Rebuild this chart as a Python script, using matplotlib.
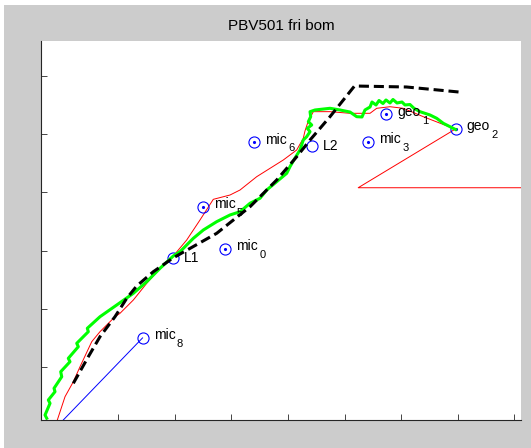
import matplotlib.pyplot as plt
from matplotlib.patches import Rectangle

plt.rcParams['font.family'] = ['Liberation Sans', 'DejaVu Sans']

# positions of the sensors / reference points (label, subscript)
names = ['L1', 'L2', 'mic', 'mic', 'mic', 'mic', 'mic', 'geo', 'geo']
subs = ['', '', '0', '3', '5', '6', '8', '1', '2']
px = [1.97, 4.42, 2.89, 5.42, 2.49, 3.40, 1.43, 5.73, 6.96]
py = [2.88, 4.80, 3.03, 4.87, 3.75, 4.86, 1.50, 5.34, 5.09]
centre_dot = [False, False, True, True, True, True, False, True, True]

# measured track (red)
red_x = [-0.076, 0.060, 0.207, 0.325, 0.532, 0.678, 0.943, 1.032, 1.267, 1.504,
         1.739, 1.973, 2.210, 2.445, 2.680, 2.975, 3.152, 3.447, 3.917, 4.154,
         4.270, 4.300, 4.353, 4.447, 4.742, 5.095, 5.449, 5.567, 5.802, 6.037,
         6.390, 6.951]
red_y = [0.089, 0.490, 0.747, 1.005, 1.435, 1.607, 1.864, 1.923, 2.151, 2.438,
         2.696, 2.907, 3.182, 3.526, 3.881, 3.955, 4.041, 4.270, 4.557, 4.729,
         4.930, 5.055, 5.210, 5.387, 5.387, 5.359, 5.359, 5.445, 5.472, 5.445,
         5.301, 5.089]

# bearing line from geo_2
ray_x = [6.96, 5.24, 9.0]
ray_y = [5.09, 4.08, 4.08]

# bearing line to mic_8
blue_x = [0.03, 1.43]
blue_y = [0.09, 1.50]

# estimated track (green)
grn_x = [-0.263, -0.293, -0.205, -0.235, -0.117, -0.134, 0.002, -0.016, 0.148, 0.118,
         0.295, 0.267, 0.472, 0.454, 0.678, 0.973, 1.267, 1.504, 1.739, 1.973,
         2.092, 2.327, 2.504, 2.740, 2.975, 3.152, 3.329, 3.505, 3.624, 3.800,
         3.977, 4.035, 4.124, 4.212, 4.270, 4.330, 4.389, 4.341, 4.419, 4.359,
         4.401, 4.389, 4.477, 4.742, 4.919, 5.095, 5.214, 5.307, 5.360, 5.449,
         5.484, 5.555, 5.608, 5.678, 5.731, 5.802, 5.855, 5.926, 6.014, 6.067,
         6.155, 6.226, 6.332, 6.509, 6.627, 6.744, 6.862, 6.959]
grn_y = [0.119, 0.175, 0.376, 0.433, 0.576, 0.634, 0.833, 0.919, 1.091, 1.149,
         1.349, 1.407, 1.607, 1.665, 1.864, 2.065, 2.266, 2.466, 2.696, 2.907,
         2.981, 3.211, 3.354, 3.497, 3.612, 3.668, 3.813, 3.899, 4.041, 4.184,
         4.328, 4.442, 4.591, 4.729, 4.900, 4.957, 5.043, 5.101, 5.158, 5.215,
         5.301, 5.387, 5.416, 5.445, 5.416, 5.381, 5.301, 5.296, 5.416, 5.467,
         5.553, 5.502, 5.579, 5.527, 5.588, 5.536, 5.596, 5.536, 5.553, 5.502,
         5.510, 5.445, 5.387, 5.330, 5.273, 5.187, 5.129, 5.081]

# planned route (black dashed)
plan_x = [0.207, 0.472, 0.678, 0.943, 1.150, 1.327, 1.620, 1.968, 2.740, 3.329,
          3.800, 4.154, 4.389, 4.742, 5.175, 6.094, 7.092]
plan_y = [0.720, 1.177, 1.521, 1.864, 2.180, 2.392, 2.637, 2.873, 3.297, 3.754,
          4.213, 4.613, 4.900, 5.301, 5.828, 5.811, 5.718]

fig = plt.figure(figsize=(5.31, 4.48), dpi=100)
fig.patch.set_facecolor('white')
fig.patches.append(Rectangle((4 / 531, 0), 1, 443 / 448, transform=fig.transFigure,
                             facecolor='#cccccc', edgecolor='none', zorder=-10))

ax = fig.add_axes([0.0765, 0.0614, 0.9047, 0.8464])
ax.set_facecolor('white')

ax.plot(red_x, red_y, color='red', lw=0.7)
ax.plot(ray_x, ray_y, color='red', lw=0.7)
ax.plot(blue_x, blue_y, color='blue', lw=0.7)

for name, sub, x, y, dot in zip(names, subs, px, py, centre_dot):
    ax.plot(x, y, 'o', ms=8, mfc='none', mec='blue', mew=0.8)
    if dot:
        ax.plot(x, y, '.', ms=2.5, color='blue')
    if not sub:
        ax.annotate(name, (x, y), xytext=(8, 0), textcoords='offset points',
                    ha='left', va='center', fontsize=10)
        continue
    # MATLAB-style subscript: smaller and dropped below the baseline
    base = ax.annotate(name, (x, y), xytext=(8, -1.1), textcoords='offset points',
                       ha='left', va='baseline', fontsize=10)
    ax.annotate(sub, xy=(1, 0), xycoords=base, xytext=(1, -3.3),
                textcoords='offset points', ha='left', va='baseline', fontsize=8)

ax.plot(grn_x, grn_y, color='#00ff00', lw=2.2)
ax.plot(plan_x, plan_y, color='black', lw=2.2, linestyle=(0, (3.3, 1.6)))

ax.set_xlim(-0.371, 8.117)
ax.set_ylim(0.081, 6.596)
ax.set_xticks(range(1, 9))
ax.set_yticks(range(1, 7))
ax.set_xticklabels([])
ax.set_yticklabels([])
ax.tick_params(direction='in', length=4, width=0.6, color='#262626')
for side in ['top', 'right']:
    ax.spines[side].set_visible(False)
for side in ['left', 'bottom']:
    ax.spines[side].set_color('#262626')
    ax.spines[side].set_linewidth(0.8)

ax.set_title('PBV501 fri bom', fontsize=11, pad=8)

fig.savefig('out.png', dpi=100)
